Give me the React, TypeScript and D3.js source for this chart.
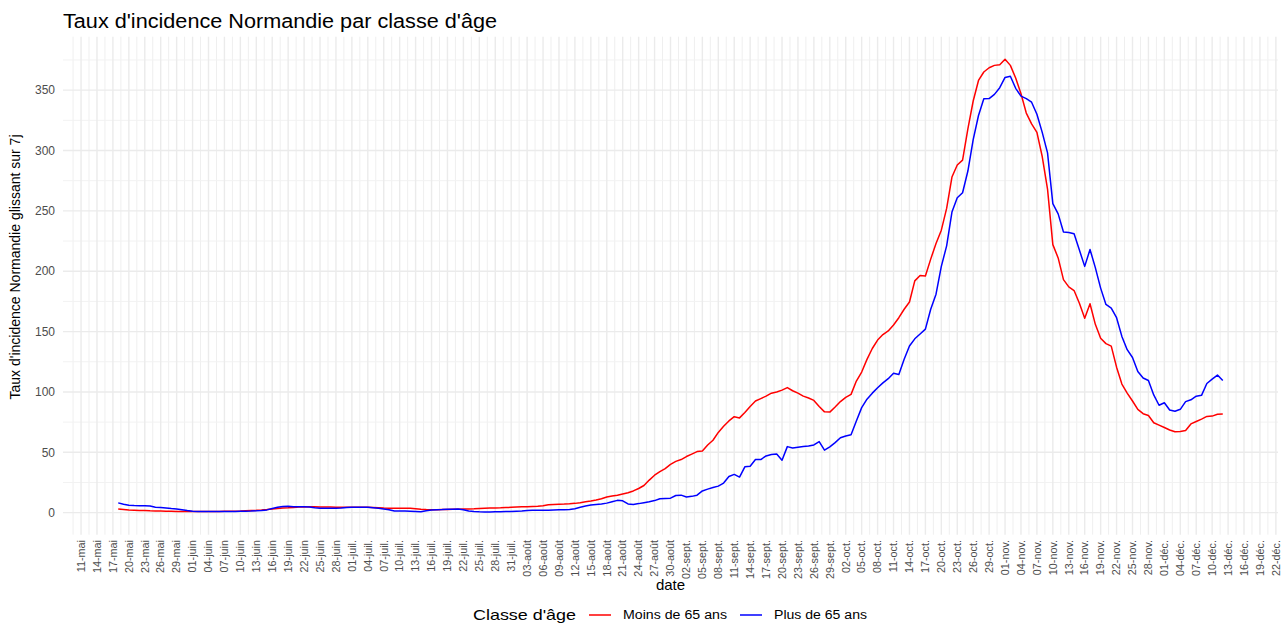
import React, { useEffect, useRef } from 'react';
import * as d3 from 'd3';

// daily values, 18 May 2020 -> 12 Dec 2020
const firstDay = '2020-05-18';

const moins65 = [
  3.0, 2.6, 2.2, 2.0, 1.8, 1.7, 1.5, 1.4, 1.3, 1.2, 1.1, 1.0, 1.0, 0.9, 0.9,
  0.9, 0.9, 1.0, 1.0, 1.0, 1.1, 1.1, 1.2, 1.3, 1.5, 1.7, 1.9, 2.2,
  2.6, 3.1, 3.5, 3.8, 4.0, 4.3, 4.6, 4.7, 4.8, 4.8, 4.7, 4.6, 4.6, 4.5, 4.5, 4.5, 4.4, 4.5, 4.4, 4.4,
  4.2, 4.0, 3.8, 3.7, 3.7, 3.7, 3.7, 3.7, 3.3, 2.8, 2.6, 2.5, 2.5, 2.6, 2.7, 2.8, 2.9, 3.0, 3.1, 3.2,
  3.4, 3.6, 3.8, 3.9, 4.0, 4.2, 4.4, 4.6, 4.8, 5.0, 5.2, 5.4, 5.7, 6.5, 6.8, 7.0, 7.1, 7.3, 7.7, 8.3,
  9.0, 9.7, 10.5, 11.5, 13, 13.8, 14.5, 15.5, 16.5, 18, 20, 22.5, 27, 31, 34, 36.5, 40, 42.5, 44, 46.5,
  48.5, 50.6, 51, 56, 60, 66.5, 71.5, 76, 79.5, 78.5, 83, 88, 92.5, 94.5, 96.5, 99, 100, 101.5, 103.6, 101,
  99, 96.5, 95, 93, 88, 83.5, 83.3, 87.5, 92, 95.5, 98, 109, 116.5, 127, 136, 143, 147.5, 150.5, 155.5, 161.5,
  168.5, 174.5, 192, 196.5, 196, 210, 223, 234, 252, 278, 288, 292, 318, 341, 358, 365, 368.5, 370.5, 371, 375.5,
  370.5, 360, 347, 331, 322, 315, 295, 268, 222, 211, 193, 187, 184, 173.5, 161, 173, 156, 144.5, 140, 138,
  120.5, 106.5, 99, 92.5, 85.5, 82, 80.5, 74.5, 72.5, 70.5, 68.5, 67, 67.2, 68, 73.5, 75.5, 77.5, 79.7, 80, 81.5, 81.7,
];

const plus65 = [
  8.1, 7.0, 6.2, 5.9, 5.8, 5.8, 5.5, 4.5, 4.2, 3.8, 3.4, 3.1, 2.5, 1.8, 1.2,
  1.0, 0.9, 0.9, 0.9, 0.9, 0.9, 1.0, 1.0, 1.1, 1.2, 1.3, 1.5, 1.8,
  2.3, 3.5, 4.4, 5.2, 5.3, 5.0, 4.8, 4.8, 4.6, 4.0, 3.6, 3.6, 3.7, 3.6, 3.8, 4.2, 4.4, 4.5, 4.4, 4.4,
  4.1, 3.6, 3.1, 2.5, 1.4, 1.3, 1.3, 1.2, 1.0, 0.7, 1.6, 2.3, 2.5, 2.6, 2.8, 2.9, 3.0, 2.5, 1.4, 1.0,
  0.7, 0.5, 0.6, 0.7, 0.8, 0.9, 1.0, 1.2, 1.3, 1.7, 2.0, 2.0, 2.0, 2.0, 2.2, 2.4, 2.5, 2.6, 3.3, 4.5,
  5.5, 6.3, 6.8, 7.2, 7.9, 9.0, 10.2, 9.8, 7.2, 6.8, 7.5, 8.3, 9.0, 10.0, 11.5, 11.8, 12.0, 14.2, 14.5, 13.0,
  13.5, 14.5, 18, 19.5, 20.8, 22, 24.5, 30, 31.7, 29.5, 38, 38.5, 44, 44, 47, 48.2, 48.6, 43.5, 54.7, 53.6,
  54.2, 54.8, 55.2, 56.1, 58.9, 51.8, 54.5, 58, 62, 63.5, 64.5, 76, 87, 94, 99, 103.5, 107.5, 111, 115.5, 114.5,
  127, 138, 144, 148, 152, 168.5, 181, 204, 221, 249, 260.8, 265, 283, 309, 329, 342.8, 343, 346.5, 352, 360.5,
  361.5, 351.5, 345, 343, 340, 330, 315, 298, 256, 247.5, 232.5, 232, 231, 217.5, 204, 218, 203, 186, 172.5, 169.5,
  161.5, 146, 135, 128.5, 117, 111.5, 109.5, 97.5, 89, 91, 85, 84, 85.6, 92, 93.5, 96.5, 97.2, 107, 110.6, 114, 109.5,
];

const seriesNames = ['Moins de 65 ans', 'Plus de 65 ans'];
const seriesColors = ['#FF0000', '#0000FF'];
const yTicks = [0, 50, 100, 150, 200, 250, 300, 350];

const frLocale = d3.timeFormatLocale({
  dateTime: '%A %e %B %Y à %X',
  date: '%d/%m/%Y',
  time: '%H:%M:%S',
  periods: ['AM', 'PM'],
  days: ['dimanche', 'lundi', 'mardi', 'mercredi', 'jeudi', 'vendredi', 'samedi'],
  shortDays: ['dim.', 'lun.', 'mar.', 'mer.', 'jeu.', 'ven.', 'sam.'],
  months: ['janvier', 'février', 'mars', 'avril', 'mai', 'juin', 'juillet', 'août', 'septembre', 'octobre', 'novembre', 'décembre'],
  shortMonths: ['janv.', 'févr.', 'mars', 'avr.', 'mai', 'juin', 'juil.', 'août', 'sept.', 'oct.', 'nov.', 'déc.'],
});

const FONT = "'Liberation Sans', Arial, sans-serif";
const NARROW = "'Liberation Sans Narrow', 'Arial Narrow', 'Liberation Sans', Arial, sans-serif";

const App = () => {
  const ref = useRef<SVGSVGElement | null>(null);

  useEffect(() => {
    const width = 1283, height = 623;
    const panel = { left: 63, right: 1278, top: 36.7, bottom: 534.7 };

    const svg = d3.select(ref.current);
    svg.selectAll('*').remove();
    svg.attr('width', width).attr('height', height);

    svg.append('rect').attr('width', width).attr('height', height).attr('fill', '#fff');

    const start = d3.isoParse(firstDay + 'T00:00:00Z') as Date;
    const dates = moins65.map((_, i) => d3.utcDay.offset(start, i));
    const series = [moins65, plus65];

    // ggplot-like 5% expansion
    const t0 = +dates[0], t1 = +dates[dates.length - 1];
    const tPad = (t1 - t0) * 0.05;
    const x = d3.scaleUtc()
      .domain([new Date(t0 - tPad), new Date(t1 + tPad)])
      .range([panel.left, panel.right]);

    const allVals = [...moins65, ...plus65];
    const vMin = d3.min(allVals) as number, vMax = d3.max(allVals) as number;
    const vPad = (vMax - vMin) * 0.05;
    const y = d3.scaleLinear()
      .domain([vMin - vPad, vMax + vPad])
      .range([panel.bottom, panel.top]);

    // x breaks every 3 days starting 11 May
    const xDomain = x.domain();
    const majorX = d3.utcDay.range(new Date(Date.UTC(2020, 4, 11)), xDomain[1], 3)
      .filter(d => d >= xDomain[0]);
    const minorX = [new Date(+majorX[0] - 36 * 3600e3), ...majorX.map(d => new Date(+d + 36 * 3600e3))]
      .filter(d => d >= xDomain[0] && d <= xDomain[1]);
    const minorY = d3.range(25, y.domain()[1], 50);

    const grid = svg.append('g');
    grid.selectAll('.minx').data(minorX).enter().append('line')
      .attr('x1', d => x(d)).attr('x2', d => x(d))
      .attr('y1', panel.top).attr('y2', panel.bottom)
      .attr('stroke', '#EFEFEF').attr('stroke-width', 1);
    grid.selectAll('.miny').data(minorY).enter().append('line')
      .attr('x1', panel.left).attr('x2', panel.right)
      .attr('y1', d => y(d)).attr('y2', d => y(d))
      .attr('stroke', '#F2F2F2').attr('stroke-width', 1);
    grid.selectAll('.majx').data(majorX).enter().append('line')
      .attr('x1', d => x(d)).attr('x2', d => x(d))
      .attr('y1', panel.top).attr('y2', panel.bottom)
      .attr('stroke', '#EBEBEB').attr('stroke-width', 1.4);
    grid.selectAll('.majy').data(yTicks).enter().append('line')
      .attr('x1', panel.left).attr('x2', panel.right)
      .attr('y1', d => y(d)).attr('y2', d => y(d))
      .attr('stroke', '#EBEBEB').attr('stroke-width', 1.4);

    // lines
    const line = d3.line<number>()
      .x((_, i) => x(dates[i]))
      .y(d => y(d));
    series.forEach((s, k) => {
      svg.append('path')
        .datum(s)
        .attr('d', line)
        .attr('fill', 'none')
        .attr('stroke', seriesColors[k])
        .attr('stroke-width', 1.5)
        .attr('stroke-linejoin', 'round');
    });

    // y axis labels
    svg.append('g').selectAll('text').data(yTicks).enter().append('text')
      .attr('x', 55).attr('y', d => y(d)).attr('dy', '0.35em')
      .attr('text-anchor', 'end')
      .attr('font-family', FONT).attr('font-size', 12).attr('fill', '#4D4D4D')
      .text(d => d);

    // x axis labels
    const fmt = frLocale.utcFormat('%d-%b');
    svg.append('g').selectAll('text').data(majorX).enter().append('text')
      .attr('transform', d => `translate(${x(d)},540) rotate(-90)`)
      .attr('dy', '0.35em')
      .attr('text-anchor', 'end')
      .attr('font-family', NARROW).attr('font-size', 10.8).attr('fill', '#4D4D4D')
      .text(d => fmt(d));

    // titles
    svg.append('text')
      .attr('x', panel.left).attr('y', 28)
      .attr('font-family', FONT).attr('font-size', 20).attr('fill', '#000')
      .attr('textLength', 434).attr('lengthAdjust', 'spacingAndGlyphs')
      .text("Taux d'incidence Normandie par classe d'âge");

    svg.append('text')
      .attr('x', (panel.left + panel.right) / 2).attr('y', 590)
      .attr('text-anchor', 'middle')
      .attr('font-family', FONT).attr('font-size', 15).attr('fill', '#000')
      .text('date');

    svg.append('text')
      .attr('transform', 'translate(20,267) rotate(-90)')
      .attr('text-anchor', 'middle')
      .attr('font-family', NARROW).attr('font-size', 15).attr('fill', '#000')
      .attr('textLength', 265).attr('lengthAdjust', 'spacingAndGlyphs')
      .text("Taux d'incidence Normandie glissant sur 7j");

    // legend
    const lg = svg.append('g').attr('font-family', FONT);
    lg.append('text').attr('x', 473).attr('y', 620)
      .attr('font-size', 15).attr('fill', '#000')
      .attr('textLength', 103).attr('lengthAdjust', 'spacingAndGlyphs')
      .text("Classe d'âge");
    const keyX = [589, 740];
    const labelX = [623, 774];
    const labelW = [104, 93];
    seriesNames.forEach((name, k) => {
      lg.append('line')
        .attr('x1', keyX[k]).attr('x2', keyX[k] + 22)
        .attr('y1', 615).attr('y2', 615)
        .attr('stroke', seriesColors[k]).attr('stroke-width', 1.5);
      lg.append('text').attr('x', labelX[k]).attr('y', 619)
        .attr('font-size', 12).attr('fill', '#000')
        .attr('textLength', labelW[k]).attr('lengthAdjust', 'spacingAndGlyphs')
        .text(name);
    });
  }, []);

  return (
    <div style={{ position: 'absolute', left: 0, top: 0 }}>
      <svg ref={ref}></svg>
    </div>
  );
};

export default App;
